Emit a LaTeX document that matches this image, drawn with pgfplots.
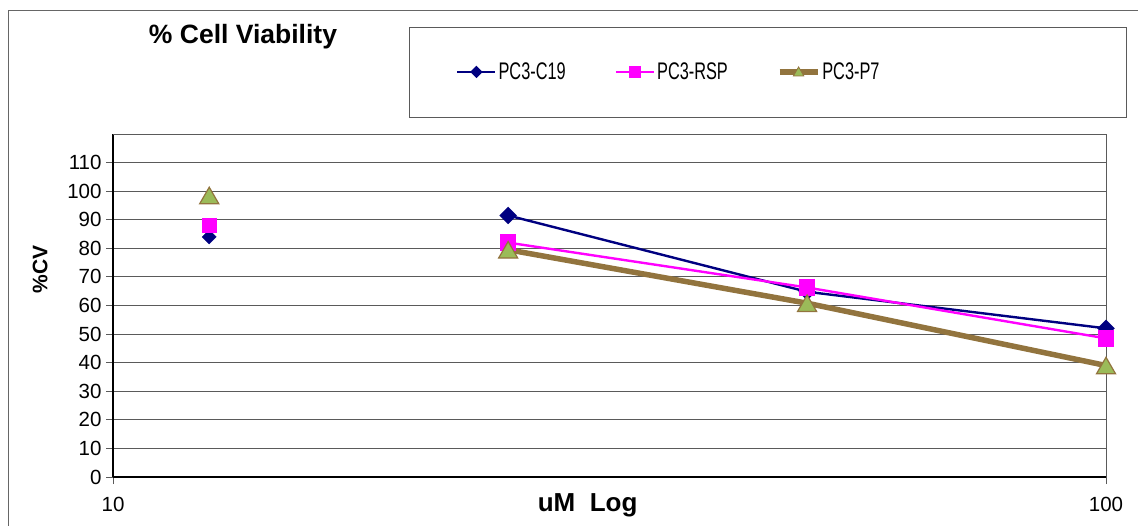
\documentclass[border=0pt]{standalone}
\usepackage{fontspec}
\setmainfont{Liberation Sans}
\newfontfamily\legfont[FakeStretch=0.68]{Liberation Sans}
\usepackage{pgfplots}
\pgfplotsset{compat=1.18}

\definecolor{cnavy}{RGB}{0,0,128}
\definecolor{cmag}{RGB}{255,0,255}
\definecolor{cbrown}{RGB}{146,116,62}
\definecolor{colive}{RGB}{155,187,89}
\definecolor{gridc}{RGB}{90,90,90}

\begin{document}
\begin{tikzpicture}
\path[use as bounding box] (0pt,0pt) rectangle (1138pt,525pt);
% outer chart frame (cut by the image edge on the right and bottom)
\draw[gray!80!black,line width=1pt] (8pt,-5pt) -- (8pt,514pt) -- (1145pt,514pt);
% legend frame
\draw[gridc,line width=0.8pt] (409pt,408pt) rectangle (1126pt,498pt);

\node[font=\bfseries\fontsize{26.5}{29}\selectfont,anchor=center] at (243pt,488pt) {\% Cell Viability};

\begin{axis}[
  at={(113pt,48pt)}, anchor=south west,
  scale only axis, width=993pt, height=343pt,
  xmode=log, xmin=10, xmax=100,
  ymin=0, ymax=120,
  xtick={10,100}, xticklabels={10,100},
  xminorticks=false,
  ytick={0,10,...,110},
  ymajorgrids=true,
  grid style={gridc,line width=0.9pt},
  axis x line*=bottom, axis y line*=left,
  axis line style={black,line width=1.4pt,-},
  tick style={gridc,line width=0.9pt},
  tick align=outside, major tick length=7pt,
  /pgf/number format/assume math mode=true,
  ticklabel style={font=\fontsize{20.5}{22}\selectfont},
  yticklabel style={xshift=-1pt},
  xticklabel style={yshift=-10pt},
  xlabel={\textbf{uM\ \ Log}},
  ylabel={\textbf{\%CV}},
  xlabel style={font=\fontsize{26}{28}\selectfont,at={(axis description cs:0.478,0)},anchor=center,yshift=-28pt},
  ylabel style={font=\fontsize{21}{24}\selectfont,at={(axis description cs:-0.0735,0.606)},anchor=center},
  clip=false,
  legend columns=3,
  legend style={
    at={(0.3454,1.181)}, anchor=west,
    draw=none, fill=none, inner sep=0pt,
    font=\legfont\fontsize{24}{26}\selectfont,
    /tikz/every even column/.append style={column sep=47pt},
  },
  legend image code/.code={
    \draw[mark repeat=2,mark phase=2] plot coordinates {(0pt,0pt) (19pt,0pt) (38pt,0pt)};
  },
]
\draw[gridc,line width=0.9pt] (rel axis cs:0,1) -- (rel axis cs:1,1) -- (rel axis cs:1,0);

% isolated first readings (no line to the rest of the series)
\addplot[only marks, mark=square*, mark size=5pt, mark options={rotate=45}, color=cnavy, forget plot] coordinates {(12.5,84)};
\addplot[only marks, mark=square*, mark size=7pt, color=cmag, forget plot] coordinates {(12.5,88)};
\addplot[only marks, mark=triangle*, mark size=11pt, mark options={yshift=-2.75pt}, color=cbrown, fill=colive, line width=1.2pt, forget plot] coordinates {(12.5,98.5)};

\addplot[color=cnavy, line width=2.4pt, mark=square*,
  mark options={rotate=45, mark size=5pt},
  legend image post style={mark options={rotate=45, mark size=3.2pt}}]
  coordinates {(25,91.5) (50,64.8) (100,52)};
\addlegendentry{PC3-C19}
\addplot[color=cmag, line width=2.4pt, mark=square*, mark size=7pt,
  legend image post style={mark size=4.5pt}]
  coordinates {(25,82) (50,66.3) (100,48.5)};
\addlegendentry{PC3-RSP}
\addplot[color=cbrown, line width=5.5pt, mark=triangle*,
  mark options={fill=colive, draw=cbrown, line width=1.2pt, mark size=11pt, yshift=-2.75pt},
  legend image post style={mark options={fill=colive, draw=cbrown, line width=0.8pt, mark size=6pt, yshift=-1pt}}]
  coordinates {(25,79.5) (50,60.8) (100,39)};
\addlegendentry{PC3-P7}
\end{axis}
\end{tikzpicture}
\end{document}
